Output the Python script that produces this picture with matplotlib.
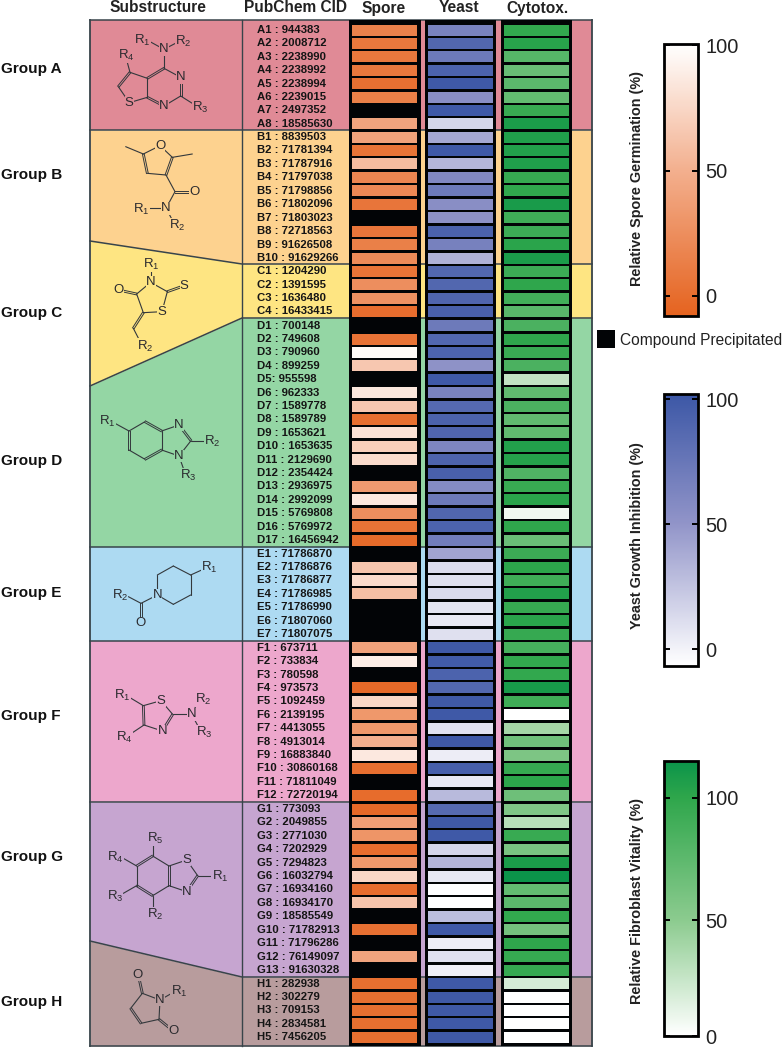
import matplotlib
matplotlib.use("Agg")
import matplotlib.pyplot as plt
import numpy as np
from matplotlib.cm import ScalarMappable
from matplotlib.colors import LinearSegmentedColormap, Normalize
from matplotlib.patches import Rectangle

plt.rcParams["font.family"] = ["Liberation Sans", "DejaVu Sans"]
plt.rcParams["mathtext.fontset"] = "custom"
plt.rcParams["mathtext.rm"] = "Liberation Sans"
plt.rcParams["mathtext.default"] = "rm"

nan = float("nan")

group_names = ["Group A", "Group B", "Group C", "Group D", "Group E", "Group F", "Group G", "Group H"]
group_sizes = [8, 10, 4, 17, 7, 12, 13, 5]
group_colors = ["#E08A96", "#FDD28F", "#FEE582", "#94D6A4", "#ADDAF2", "#EDA7CC", "#C6A5D0", "#B89C9D"]

compounds = [
    "A1 : 944383", "A2 : 2008712", "A3 : 2238990", "A4 : 2238992", "A5 : 2238994", "A6 : 2239015",
    "A7 : 2497352", "A8 : 18585630",
    "B1 : 8839503", "B2 : 71781394", "B3 : 71787916", "B4 : 71797038", "B5 : 71798856", "B6 : 71802096",
    "B7 : 71803023", "B8 : 72718563", "B9 : 91626508", "B10 : 91629266",
    "C1 : 1204290", "C2 : 1391595", "C3 : 1636480", "C4 : 16433415",
    "D1 : 700148", "D2 : 749608", "D3 : 790960", "D4 : 899259", "D5: 955598", "D6 : 962333",
    "D7 : 1589778", "D8 : 1589789", "D9 : 1653621", "D10 : 1653635", "D11 : 2129690", "D12 : 2354424",
    "D13 : 2936975", "D14 : 2992099", "D15 : 5769808", "D16 : 5769972", "D17 : 16456942",
    "E1 : 71786870", "E2 : 71786876", "E3 : 71786877", "E4 : 71786985", "E5 : 71786990", "E6 : 71807060",
    "E7 : 71807075",
    "F1 : 673711", "F2 : 733834", "F3 : 780598", "F4 : 973573", "F5 : 1092459", "F6 : 2139195",
    "F7 : 4413055", "F8 : 4913014", "F9 : 16883840", "F10 : 30860168", "F11 : 71811049", "F12 : 72720194",
    "G1 : 773093", "G2 : 2049855", "G3 : 2771030", "G4 : 7202929", "G5 : 7294823", "G6 : 16032794",
    "G7 : 16934160", "G8 : 16934170", "G9 : 18585549", "G10 : 71782913", "G11 : 71796286", "G12 : 76149097",
    "G13 : 91630328",
    "H1 : 282938", "H2 : 302279", "H3 : 709153", "H4 : 2834581", "H5 : 7456205",
]

# nan = compound precipitated (black cell)
spore = [
    15, 8, 8, 8, 2, 14, nan, 42,
    40, 5, 58, 18, 20, 6, nan, 6, 14, 22,
    5, 25, 27, 0,
    nan, 4, 97, 65, nan, 85, 65, 1, 82, 70, 78, nan, 34, 86, 25, 4, -2,
    nan, 64, 78, 60, nan, nan, nan,
    40, 90, nan, -3, 75, 32, 32, 50, 86, 1, nan, -1,
    -3, 37, 30, 0, 32, 75, 0, 63, nan, 2, nan, 42, nan,
    1, 1, 1, 1, 1,
]
yeast = [
    65, 88, 72, 92, 100, 55, 100, 15,
    40, 100, 32, 60, 72, 55, 52, 93, 66, 35,
    88, 88, 90, 94,
    72, 88, 92, 52, 100, 65, 87, 92, 90, 62, 91, 94, 58, 72, 89, 92, 70,
    42, 12, 10, 13, 8, 5, 10,
    100, 99, 92, 88, 100, 100, 9, 100, 3, 95, 5, 30,
    86, 100, 100, 15, 33, 6, -6, -6, 28, 100, 3, 10, 2,
    100, 100, 100, 100, 100,
]
cytotox = [
    98, 103, 79, 69, 76, 72, 95, 108,
    106, 105, 106, 96, 99, 109, 91, 93, 102, 108,
    93, 100, 90, 77,
    85, 100, 94, 85, 28, 73, 85, 73, 73, 105, 104, 82, 95, 102, 9, 100, 68,
    93, 101, 91, 105, 96, 102, 96,
    87, 98, 98, 110, 91, 0, 40, 65, 58, 96, 101, 66,
    57, 33, 95, 60, 108, 115, 72, 76, 98, 63, 100, 96, 96,
    20, 0, 0, 0, 0,
]

headers = ["Substructure", "PubChem CID", "Spore", "Yeast", "Cytotox."]

# layout, in pixels of the 783x1049 picture
boundary_left = [20, 130, 241, 386, 547, 641, 802, 941, 1046]
boundary_right = [20, 130, 264, 318, 547, 641, 802, 977, 1046]
row_first = [30, 137, 271.5, 325.7, 553.7, 647.7, 809, 983.7]
row_last = [123.8, 258, 311.5, 540, 634, 795.3, 970, 1037]
group_label_y = [69.5, 174.5, 313, 461, 593, 716, 857, 1002]
X_LEFT, X_DIV, X_RIGHT = 90, 242, 592
BAR_H = 11

spore_cmap = LinearSegmentedColormap.from_list(
    "spore", [(0, "#E5631F"), (0.54, "#F3B08F"), (1, "#FFFFFF")])
yeast_cmap = LinearSegmentedColormap.from_list(
    "yeast", [(0, "#FFFFFF"), (0.53, "#9093C8"), (1, "#3C57A6")])
cyto_cmap = LinearSegmentedColormap.from_list(
    "cyto", [(0, "#FFFFFF"), (0.42, "#8CCB8F"), (0.87, "#2EA64B"), (1, "#0B944A")])
spore_norm = Normalize(-8, 100.5)
yeast_norm = Normalize(-6.7, 102)
cyto_norm = Normalize(2.8, 115)

fig = plt.figure(figsize=(7.83, 10.49), dpi=100)
ax = fig.add_axes([0, 0, 1, 1])
ax.set_xlim(0, 783)
ax.set_ylim(1049, 0)
ax.axis("off")

LINE = "#38444A"
xs = [X_LEFT, X_DIV, X_RIGHT]
for i, color in enumerate(group_colors):
    top = [boundary_left[i], boundary_right[i], boundary_right[i]]
    bottom = [boundary_left[i + 1], boundary_right[i + 1], boundary_right[i + 1]]
    ax.fill_between(xs, top, bottom, color=color, lw=0, zorder=1)
for left, right in zip(boundary_left, boundary_right):
    ax.plot(xs, [left, right, right], color=LINE, lw=1.1, zorder=2)
ax.plot([X_LEFT, X_LEFT], [20, 1046], color=LINE, lw=1.3, zorder=2)
ax.plot([X_DIV, X_DIV], [20, 1046], color=LINE, lw=1.0, zorder=2)
ax.plot([X_RIGHT, X_RIGHT], [20, 1046], color=LINE, lw=1.3, zorder=2)

row_y = np.concatenate([np.linspace(a, b, n) for a, b, n in zip(row_first, row_last, group_sizes)])

columns = [
    (spore, spore_cmap, spore_norm, 349, 420.5, 352, 417),
    (yeast, yeast_cmap, yeast_norm, 425, 496, 427.5, 493),
    (cytotox, cyto_cmap, cyto_norm, 501, 572, 503.5, 569),
]
for values, cmap, norm, fx0, fx1, bx0, bx1 in columns:
    ax.add_patch(Rectangle((fx0, 20), fx1 - fx0, 1026, color="#020406", lw=0, zorder=3))
    vals = np.array(values, dtype=float)
    keep = ~np.isnan(vals)
    ax.barh(row_y[keep], bx1 - bx0, left=bx0, height=BAR_H, color=cmap(norm(vals[keep])), lw=0, zorder=4)

for y, label in zip(row_y, compounds):
    ax.text(257, y, label, fontsize=8.2, fontweight="bold", color="#151515", va="center", ha="left", zorder=5)

for name, y in zip(group_names, group_label_y):
    ax.text(1, y, name, fontsize=11, fontweight="bold", color="#111111", va="center", ha="left")

for name, x in zip(headers, [158, 295, 384, 458.5, 537]):
    ax.text(x, 8, name, fontsize=11.2, fontweight="bold", color="#222222", va="center", ha="center")


def draw_mol(x0, y0, bg, bonds, doubles, atoms):
    def px(p):
        return x0 + p[0] / 3, y0 + p[1] / 3

    for a, b in bonds:
        (xa, ya), (xb, yb) = px(a), px(b)
        ax.plot([xa, xb], [ya, yb], color="#33383C", lw=0.8, zorder=6, solid_capstyle="round")
    for a, b in doubles:
        (xa, ya), (xb, yb) = px(a), px(b)
        nx, ny = -(yb - ya), xb - xa
        d = np.hypot(nx, ny)
        nx, ny = nx / d * 0.9, ny / d * 0.9
        for s in (-1, 1):
            ax.plot([xa + s * nx, xb + s * nx], [ya + s * ny, yb + s * ny],
                    color="#33383C", lw=0.7, zorder=6)
    for p, label in atoms:
        x, y = px(p)
        ax.text(x, y, label, fontsize=9.5, color="#2A2A2E", ha="center", va="center", zorder=7,
                bbox=dict(facecolor=bg, edgecolor="none", pad=0.2))


R1, R2, R3, R4, R5 = [f"R$_{{{n}}}$" for n in range(1, 6)]

draw_mol(85, 20, group_colors[0],
         [((237, 88), (237, 145)), ((237, 145), (287, 172)), ((287, 228), (237, 258)),
          ((187, 175), (187, 232)), ((287, 228), (325, 252)), ((187, 175), (135, 157)),
          ((100, 200), (133, 248)), ((133, 248), (187, 232)), ((135, 157), (125, 120)),
          ((237, 88), (195, 65)), ((237, 88), (275, 68))],
         [((237, 145), (187, 175)), ((287, 172), (287, 228)), ((187, 232), (237, 258)), ((135, 157), (100, 200))],
         [((237, 88), "N"), ((287, 172), "N"), ((237, 258), "N"), ((133, 248), "S"),
          ((172, 60), R1), ((295, 64), R2), ((345, 263), R3), ((124, 105), R4)])

draw_mol(85, 20, group_colors[1],
         [((225, 377), (175, 402)), ((225, 377), (262, 412)), ((187, 460), (243, 465)),
          ((175, 402), (122, 380)), ((262, 412), (322, 402)), ((243, 465), (270, 515)),
          ((270, 515), (243, 565)), ((190, 565), (243, 565)), ((243, 565), (262, 600))],
         [((175, 402), (187, 460)), ((243, 465), (262, 412)), ((270, 515), (327, 515))],
         [((225, 377), "O"), ((327, 515), "O"), ((243, 565), "N"), ((170, 567), R1), ((278, 617), R2)])

draw_mol(80, 230, group_colors[2],
         [((212, 118), (212, 157)), ((212, 157), (170, 192)), ((212, 157), (262, 185)),
          ((262, 185), (246, 245)), ((246, 245), (190, 248)), ((190, 248), (170, 192)),
          ((160, 295), (178, 330))],
         [((170, 192), (115, 180)), ((262, 185), (313, 167)), ((190, 248), (160, 295))],
         [((212, 157), "N"), ((115, 180), "O"), ((313, 167), "S"), ((246, 245), "S"),
          ((215, 102), R1), ((195, 348), R2)])

draw_mol(80, 230, group_colors[3],
         [((147, 603), (195, 575)), ((245, 603), (245, 660)), ((195, 688), (147, 660)),
          ((147, 603), (105, 580)), ((245, 603), (297, 585)), ((245, 660), (297, 678)),
          ((333, 632), (297, 678)), ((333, 632), (380, 632)), ((297, 678), (310, 715))],
         [((147, 603), (147, 660)), ((195, 575), (245, 603)), ((245, 660), (195, 688)), ((297, 585), (333, 632))],
         [((297, 585), "N"), ((297, 678), "N"), ((82, 575), R1), ((397, 635), R2), ((325, 737), R3)])

draw_mol(80, 540, group_colors[4],
         [((232, 165), (232, 105)), ((232, 105), (280, 78)), ((280, 78), (332, 105)),
          ((332, 105), (332, 165)), ((332, 165), (280, 193)), ((280, 193), (232, 165)),
          ((332, 105), (365, 90)), ((232, 165), (183, 190)), ((183, 190), (145, 170))],
         [((183, 190), (183, 250))],
         [((232, 165), "N"), ((183, 250), "O"), ((388, 82), R1), ((120, 167), R2)])

draw_mol(80, 540, group_colors[5],
         [((190, 497), (243, 482)), ((243, 482), (278, 523)), ((247, 573), (192, 555)),
          ((190, 497), (150, 473)), ((192, 555), (150, 583)), ((278, 523), (335, 523)),
          ((335, 523), (352, 490)), ((335, 523), (355, 560))],
         [((278, 523), (247, 573)), ((192, 555), (190, 497))],
         [((243, 482), "S"), ((247, 573), "N"), ((335, 523), "N"), ((128, 467), R1), ((370, 478), R2),
          ((373, 577), R3), ((133, 592), R4)])

draw_mol(80, 790, group_colors[6],
         [((218, 198), (267, 228)), ((267, 287), (218, 317)), ((170, 287), (170, 228)),
          ((267, 228), (320, 210)), ((320, 210), (353, 257)), ((320, 305), (267, 287)),
          ((353, 257), (400, 257)), ((218, 198), (218, 165)), ((170, 228), (130, 205)),
          ((170, 287), (130, 310)), ((218, 317), (218, 352))],
         [((218, 198), (170, 228)), ((267, 228), (267, 287)), ((170, 287), (218, 317)), ((353, 257), (320, 305))],
         [((320, 210), "S"), ((320, 305), "N"), ((420, 260), R1), ((227, 373), R2), ((105, 318), R3),
          ((105, 202), R4), ((227, 145), R5)])

draw_mol(80, 790, group_colors[7],
         [((240, 630), (187, 610)), ((240, 630), (237, 688)), ((187, 610), (152, 655)),
          ((183, 700), (237, 688)), ((240, 630), (275, 610))],
         [((152, 655), (183, 700)), ((187, 610), (175, 555)), ((237, 688), (280, 723))],
         [((240, 630), "N"), ((173, 555), "O"), ((280, 723), "O"), ((297, 603), R1)])

# precipitate key
ax.add_patch(Rectangle((596.5, 330), 18, 18, color="#020406", lw=0))
ax.text(619.5, 340, "Compound Precipitated", fontsize=11.2, color="#222222", va="center", ha="left")


def add_bar(cmap, norm, y_top, y_bottom, ticks, ticklabels, label, label_y):
    cax = fig.add_axes([663.5 / 783, 1 - y_bottom / 1049, 34 / 783, (y_bottom - y_top) / 1049])
    cbar = fig.colorbar(ScalarMappable(norm=norm, cmap=cmap), cax=cax)
    cbar.set_ticks(ticks, labels=ticklabels)
    cbar.outline.set_linewidth(2.0)
    cax.tick_params(axis="y", which="both", left=True, right=True, direction="in", length=4.5,
                    width=1.4, labelsize=14.4, pad=5.5, labelcolor="#222222")
    ax.text(637, label_y, label, rotation=90, fontsize=10.4, fontweight="bold", color="#222222",
            va="center", ha="center")


add_bar(spore_cmap, spore_norm, 44, 316, [0, 50, 100], ["0", "50", "100"], "Relative Spore Germination (%)", 179)
add_bar(yeast_cmap, yeast_norm, 394, 666, [0, 50, 100], ["0", "50", "100"], "Yeast Growth Inhibition (%)", 536)
add_bar(cyto_cmap, cyto_norm, 761, 1036, [2.8, 50, 100], ["0", "50", "100"], "Relative Fibroblast Vitality (%)", 901)

fig.savefig("out.png", dpi=100)
